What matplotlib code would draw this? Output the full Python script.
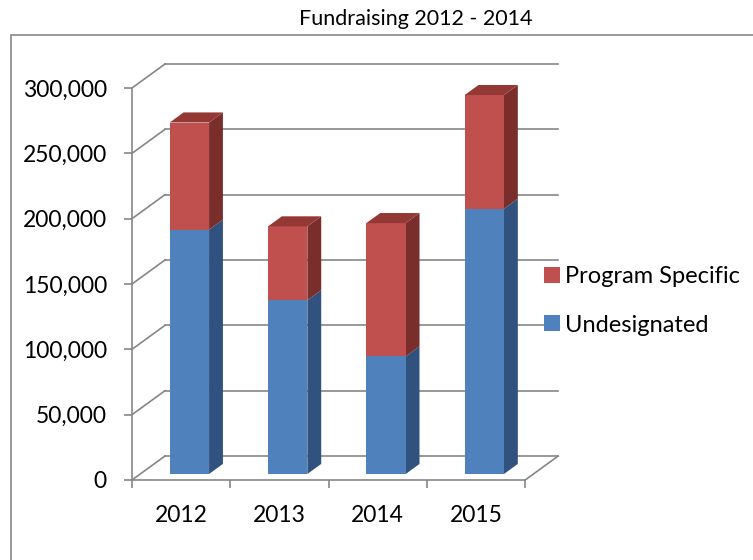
import numpy as np
import matplotlib.pyplot as plt
from matplotlib.patches import Polygon, Rectangle, Patch
from matplotlib.ticker import StrMethodFormatter, FixedLocator

# ===========================
# DATA
# ===========================
years = ["2012", "2013", "2014", "2015"]
undesignated = [187000, 133000, 90000, 203000]
program_specific = [82000, 56500, 102000, 87000]
y_ticks = [0, 50000, 100000, 150000, 200000, 250000, 300000]
title = "Fundraising 2012 - 2014"

# ===========================
# STYLE / GEOMETRY
# ===========================
plt.rcParams['font.family'] = ['Lato', 'DejaVu Sans']
W, H = 753, 560
GRID = "#868686"
BLUE = ("#4f81bd", "#31527e", "#4f81bd")   # front, side, top
RED = ("#c0504d", "#7a2e2c", "#943835")

# pixel layout of the plot area (front plane)
px_left, px_zero = 132, 480          # x of first category edge, y of value 0
px_per_cat = 98.3
px_per_val = 392.0 / 300000
depth_dx_px, depth_dy_px = 33, 24    # oblique offset of the back wall

dx = depth_dx_px / px_per_cat        # in category units
dy = depth_dy_px / px_per_val        # in value units
x_lo = -0.5
x_hi = x_lo + 428 / px_per_cat
y_hi = 320000

bar_w = 0.4
z0, z1 = 0.25, 0.67                  # bar depth (fraction of floor depth)

fig = plt.figure(figsize=(W / 100, H / 100), dpi=100)
ax = fig.add_axes([px_left / W, (H - px_zero) / H,
                   (x_hi - x_lo) * px_per_cat / W, y_hi * px_per_val / H])
ax.set_xlim(x_lo, x_hi)
ax.set_ylim(0, y_hi)
ax.patch.set_alpha(0)

# chart border
fig.add_artist(Rectangle((11 / W, -0.1), 2, (H - 35) / H + 0.1,
                         transform=fig.transFigure, fill=False,
                         edgecolor=GRID, lw=1.2))

# walls: back gridlines + left wall diagonals
n = len(years)
for v in y_ticks:
    ax.plot([x_lo + dx, x_lo + n + dx], [v + dy, v + dy], color=GRID, lw=1.2, zorder=1)
    ax.plot([x_lo, x_lo + dx], [v, v + dy], color=GRID, lw=1.2, zorder=1)
# right edge of the floor
ax.plot([x_lo + n, x_lo + n + dx], [0, dy], color=GRID, lw=1.2, zorder=1)


def draw_box(xc, base, height, cols, top=True):
    x0 = xc - bar_w / 2 + z0 * dx
    yb = base + z0 * dy
    dd = z1 - z0
    front = Rectangle((x0, yb), bar_w, height, facecolor=cols[0], edgecolor="none", zorder=3)
    side = Polygon([(x0 + bar_w, yb), (x0 + bar_w, yb + height),
                    (x0 + bar_w + dd * dx, yb + height + dd * dy),
                    (x0 + bar_w + dd * dx, yb + dd * dy)],
                   facecolor=cols[1], edgecolor="none", zorder=3)
    ax.add_patch(side)
    ax.add_patch(front)
    if top:
        tp = Polygon([(x0, yb + height), (x0 + bar_w, yb + height),
                      (x0 + bar_w + dd * dx, yb + height + dd * dy),
                      (x0 + dd * dx, yb + height + dd * dy)],
                     facecolor=cols[2], edgecolor="none", zorder=3)
        ax.add_patch(tp)


for i in range(n):
    draw_box(i, 0, undesignated[i], BLUE, top=False)
    draw_box(i, undesignated[i], program_specific[i], RED, top=True)

# axes / ticks
for s in ["top", "right"]:
    ax.spines[s].set_visible(False)
for s in ["left", "bottom"]:
    ax.spines[s].set_color(GRID)
    ax.spines[s].set_linewidth(1.2)
ax.spines["left"].set_bounds(0, y_ticks[-1])
ax.spines["bottom"].set_bounds(x_lo, x_lo + n)

ax.set_yticks(y_ticks)
ax.yaxis.set_major_formatter(StrMethodFormatter("{x:,.0f}"))
ax.tick_params(axis="y", length=6, width=1.2, color=GRID, pad=12, labelsize=16.5)

ax.xaxis.set_major_locator(FixedLocator(np.arange(n + 1) - 0.5))
ax.xaxis.set_minor_locator(FixedLocator(np.arange(n)))
ax.xaxis.set_minor_formatter(plt.FixedFormatter(years))
ax.tick_params(axis="x", which="major", length=6, width=1.2, color=GRID, labelbottom=False)
ax.tick_params(axis="x", which="minor", length=0, pad=18, labelsize=16.5)

fig.text(416 / W, 1 - 19 / H, title, ha="center", va="center", fontsize=15.5)

handles = [Patch(facecolor=RED[0]), Patch(facecolor=BLUE[0])]
fig.legend(handles, ["Program Specific", "Undesignated"],
           loc="upper left", bbox_to_anchor=(535 / W, 1 - 257 / H),
           frameon=False, fontsize=17, handlelength=0.64, handleheight=0.64,
           handletextpad=0.25, labelspacing=1.15, borderaxespad=0)

fig.savefig("out.png", dpi=100)
